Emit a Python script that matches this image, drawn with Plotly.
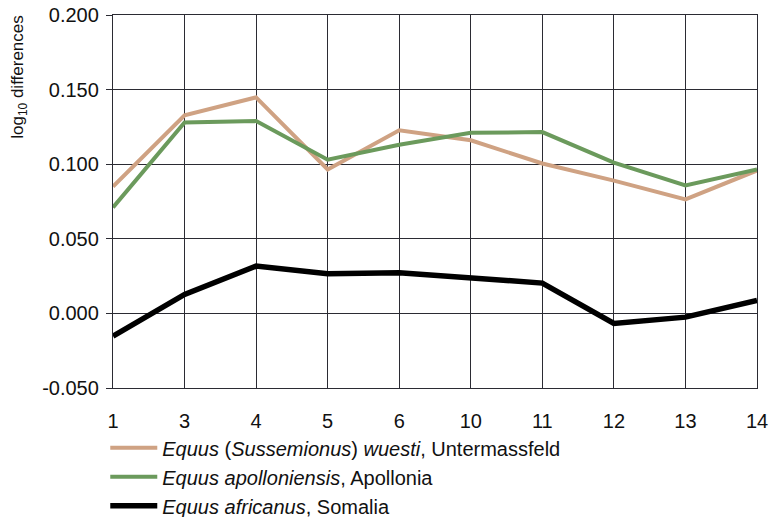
import plotly.graph_objects as go

categories = ["1", "3", "4", "5", "6", "10", "11", "12", "13", "14"]
untermassfeld = [0.085, 0.1327, 0.1448, 0.0965, 0.1227, 0.1160, 0.1005, 0.0890, 0.0764, 0.0958]
apollonia = [0.071, 0.1280, 0.1290, 0.1030, 0.1130, 0.1210, 0.1215, 0.1010, 0.0858, 0.0965]
somalia = [-0.0152, 0.0127, 0.0317, 0.0266, 0.0273, 0.0239, 0.0203, -0.0067, -0.0025, 0.0087]

names = [
    "<i>Equus</i> (<i>Sussemionus</i>) <i>wuesti</i>, Untermassfeld",
    "<i>Equus apolloniensis</i>, Apollonia",
    "<i>Equus africanus</i>, Somalia",
]
colors = ["#CFA283", "#6B9A5C", "#000000"]
widths = [4, 4, 5.5]

y_tickvals = [-0.05, 0.0, 0.05, 0.10, 0.15, 0.20]
y_ticktext = ["-0.050", "0.000", "0.050", "0.100", "0.150", "0.200"]
y_title = "log<sub>10</sub> differences"

fig = go.Figure()
for vals, name, c, w in zip([untermassfeld, apollonia, somalia], names, colors, widths):
    fig.add_trace(go.Scatter(x=categories, y=vals, mode="lines", name=name,
                             line=dict(color=c, width=w)))

font_family = "Liberation Sans, Arial, sans-serif"
grid_c = "#2b2b33"
fig.update_layout(
    width=771, height=517,
    margin=dict(l=113, r=14, t=15, b=129, autoexpand=False),
    paper_bgcolor="white", plot_bgcolor="white",
    font=dict(family=font_family, size=20, color="#111"),
    showlegend=True,
    legend=dict(x=-0.012, y=-0.108, xanchor="left", yanchor="top",
                orientation="v", font=dict(size=20, color="#111"),
                tracegroupgap=0, itemwidth=47, bgcolor="rgba(0,0,0,0)"),
)
fig.add_annotation(text=y_title, textangle=-90, xref="paper", yref="paper",
                   x=-0.146, y=1.006, xanchor="center", yanchor="top",
                   showarrow=False, font=dict(size=17, color="#111"))
fig.update_xaxes(
    type="category", categoryorder="array", categoryarray=categories,
    range=[0, 9], showgrid=True, gridcolor=grid_c, gridwidth=1.3,
    showline=True, linecolor=grid_c, linewidth=1.3, mirror=True,
    ticks="", tickfont=dict(size=20), zeroline=False, ticklabelstandoff=15,
)
fig.update_yaxes(
    range=[-0.05, 0.2], tickvals=y_tickvals, ticktext=y_ticktext,
    showgrid=True, gridcolor=grid_c, gridwidth=1.3,
    showline=True, linecolor=grid_c, linewidth=1.3, mirror=True,
    ticks="outside", ticklen=6, tickcolor=grid_c, tickwidth=1.3,
    tickfont=dict(size=20), zeroline=False, ticklabelstandoff=3,
)

# remove the browser's default 8px body margin so the figure fills the window
fig.write_html("out.html", config={"displayModeBar": False},
               post_script="document.body.style.margin='0';document.body.style.overflow='hidden';")
